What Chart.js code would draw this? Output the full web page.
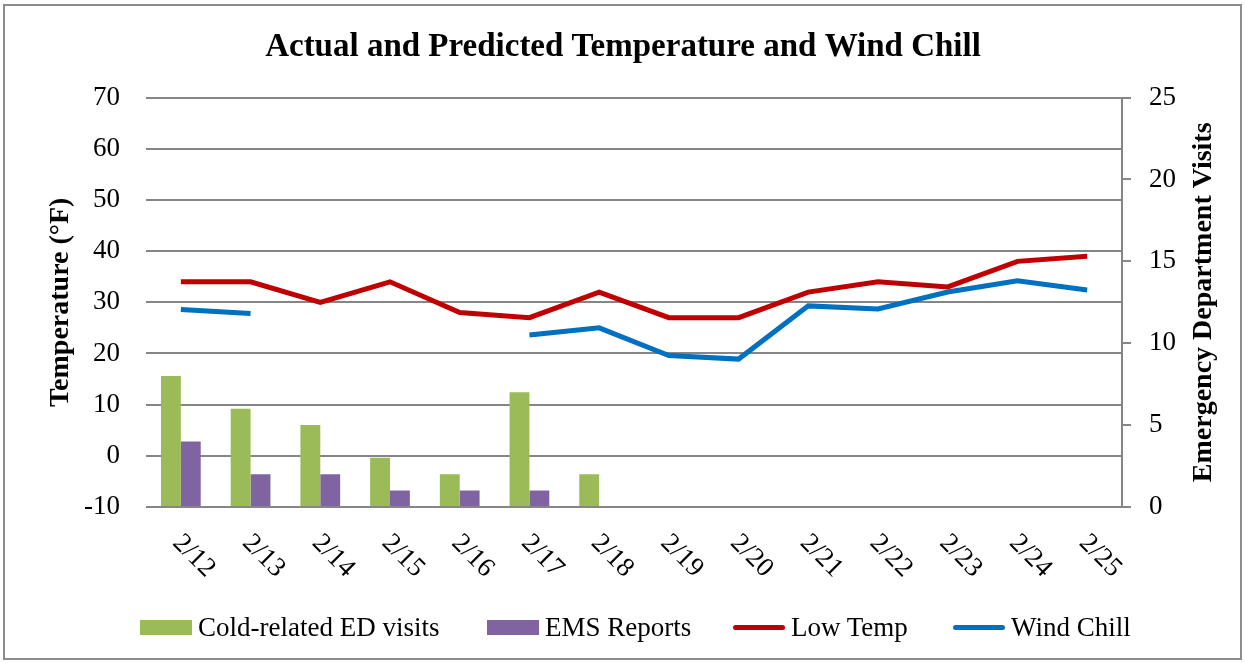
<!DOCTYPE html>
<html>
<head>
<meta charset="utf-8">
<script src="https://cdn.jsdelivr.net/npm/chart.js@4.4.1/dist/chart.umd.min.js"></script>
<style>
    body { margin: 0; background: #fff; }
    #wrap { position: relative; width: 1246px; height: 663px; }
    #legend { position: absolute; top: 612px; left: 0; width: 1246px; height: 30px; font-family: "Liberation Serif", serif; font-size: 27px; color: #000; }
    .item { position: absolute; top: 0; display: flex; align-items: center; height: 30px; }
    .swatch { width: 52px; height: 15px; margin-right: 6px; }
    .line { width: 52px; height: 5px; border-radius: 3px; margin-right: 6px; }
</style>
</head>
<body>
<div id="wrap">
    <canvas id="chart" width="1246" height="663"></canvas>
    <div id="legend">
        <div class="item" style="left:140px"><div class="swatch" style="background:#9BBB59"></div>Cold-related ED visits</div>
        <div class="item" style="left:487px"><div class="swatch" style="background:#8064A2"></div>EMS Reports</div>
        <div class="item" style="left:733px"><div class="line" style="background:#C00000"></div>Low Temp</div>
        <div class="item" style="left:953px"><div class="line" style="background:#0070C0"></div>Wind Chill</div>
    </div>
</div>
<script>
// Chart data
const days = ['2/12', '2/13', '2/14', '2/15', '2/16', '2/17', '2/18', '2/19', '2/20', '2/21', '2/22', '2/23', '2/24', '2/25'];
const edVisits = [8, 6, 5, 3, 2, 7, 2, null, null, null, null, null, null, null];
const emsReports = [4, 2, 2, 1, 1, 1, null, null, null, null, null, null, null, null];
const lowTemp = [34, 34, 30, 34, 28, 27, 32, 27, 27, 32, 34, 33, 38, 39];
const windChill = [28.6, 27.8, null, null, null, 23.6, 25, 19.6, 18.9, 29.3, 28.7, 32, 34.2, 32.4];

const serif = '"Liberation Serif", "DejaVu Serif", serif';
const gridGrey = '#868686';

// draws the frame, the rotated day labels and the right axis title
const extras = {
    id: 'extras',
    beforeDraw(chart) {
        const ctx = chart.ctx;
        ctx.save();
        ctx.strokeStyle = '#8c8c8c';
        ctx.lineWidth = 2;
        ctx.strokeRect(4, 5, 1237, 654);
        ctx.restore();
    },
    afterDraw(chart) {
        const ctx = chart.ctx;
        const x = chart.scales.x;
        ctx.save();
        ctx.fillStyle = '#000';
        ctx.font = '27px ' + serif;
        ctx.textAlign = 'left';
        ctx.textBaseline = 'middle';
        days.forEach((d, i) => {
            const px = x.getPixelForValue(i);
            ctx.save();
            ctx.translate(px - 4, 539);
            ctx.rotate(Math.PI / 4);
            ctx.fillText(d, 0, 0);
            ctx.restore();
        });
        const area = chart.chartArea;
        ctx.font = 'bold 28px ' + serif;
        ctx.textAlign = 'center';
        ctx.translate(1204, (area.top + area.bottom) / 2);
        ctx.rotate(-Math.PI / 2);
        ctx.fillText('Emergency Department Visits', 0, 0);
        ctx.restore();
    }
};

new Chart(document.getElementById('chart'), {
    data: {
        labels: days,
        datasets: [{
            type: 'line',
            label: 'Low Temp',
            data: lowTemp,
            yAxisID: 'y',
            borderColor: '#C00000',
            borderWidth: 5,
            pointRadius: 0,
            tension: 0,
            order: 1
        }, {
            type: 'line',
            label: 'Wind Chill',
            data: windChill,
            yAxisID: 'y',
            borderColor: '#0070C0',
            borderWidth: 5,
            pointRadius: 0,
            tension: 0,
            spanGaps: false,
            order: 2
        }, {
            type: 'bar',
            label: 'Cold-related ED visits',
            data: edVisits,
            yAxisID: 'y2',
            backgroundColor: '#9BBB59',
            categoryPercentage: 0.57,
            barPercentage: 1,
            order: 3
        }, {
            type: 'bar',
            label: 'EMS Reports',
            data: emsReports,
            yAxisID: 'y2',
            backgroundColor: '#8064A2',
            categoryPercentage: 0.57,
            barPercentage: 1,
            order: 4
        }]
    },
    options: {
        responsive: false,
        animation: false,
        layout: { padding: 0 },
        plugins: {
            legend: { display: false },
            tooltip: { enabled: false },
            title: {
                display: true,
                text: 'Actual and Predicted Temperature and Wind Chill',
                color: '#000',
                font: { family: serif, size: 33, weight: 'bold' },
                padding: { top: 28, bottom: 30 }
            }
        },
        scales: {
            x: {
                offset: true,
                grid: { display: false },
                border: { display: false },
                ticks: { display: false },
                afterFit(scale) { scale.height = 156; }
            },
            y: {
                position: 'left',
                min: -10,
                max: 70,
                ticks: { stepSize: 10, color: '#000', padding: 26, font: { family: serif, size: 27 } },
                grid: { color: gridGrey, lineWidth: 2, drawTicks: false },
                border: { display: false },
                title: {
                    display: true,
                    text: 'Temperature (°F)',
                    color: '#000',
                    font: { family: serif, size: 28, weight: 'bold' },
                    padding: { top: 44, bottom: 0 }
                },
                afterFit(scale) { scale.width = 146; }
            },
            y2: {
                position: 'right',
                min: 0,
                max: 25,
                ticks: { stepSize: 5, color: '#000', padding: 18, font: { family: serif, size: 27 } },
                grid: { drawOnChartArea: false, color: gridGrey, lineWidth: 2, tickLength: 9 },
                border: { display: true, color: gridGrey, width: 2 },
                afterFit(scale) { scale.width = 124; }
            }
        }
    },
    plugins: [extras]
});
</script>
</body>
</html>
